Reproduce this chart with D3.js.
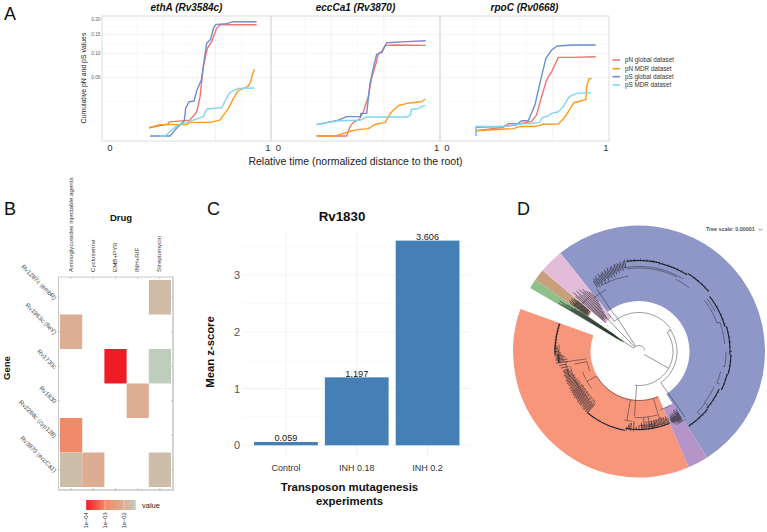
<!DOCTYPE html>
<html><head><meta charset="utf-8">
<script src="https://cdn.jsdelivr.net/npm/d3@7"></script>
<style>html,body{margin:0;padding:0;background:#fff}svg{display:block}text{font-family:"Liberation Sans",Arial,sans-serif}</style>
</head><body><svg id="c" width="767" height="532"></svg>
<script>
// ---------- Panel A data [x, value]
const genes=["ethA (Rv3584c)","eccCa1 (Rv3870)","rpoC (Rv0668)"];
const seriesNames=["pN global dataset","pN MDR dataset","pS global dataset","pS MDR dataset"];
const seriesColors=["#f2736f","#ff9a1c","#6a8fd2","#80d6f0"];
const ethA_pNglobal=[[.247,.001],[.369,.0021],[.376,.0029],[.506,.0037],[.549,.0086],[.57,.0226],[.591,.0702],[.616,.1122],[.643,.13],[.675,.1693],[.696,.181],[.928,.181]];
const ethA_pNmdr=[[.247,.001],[.316,.0019],[.485,.0019],[.506,.0027],[.633,.0027],[.696,.0037],[.749,.0112],[.781,.0207],[.812,.03],[.876,.0365],[.89,.0431],[.901,.0543],[.914,.0649]];
const ethA_pSglobal=[[.253,0],[.38,0],[.422,.0009],[.47,.0034],[.479,.0112],[.5,.0172],[.532,.0179],[.549,.03],[.578,.0458],[.593,.0771],[.612,.1254],[.637,.1365],[.654,.1693],[.671,.1821],[.738,.1843],[.781,.1909],[.928,.1909]];
const ethA_pSmdr=[[.316,0],[.348,0],[.422,.0015],[.591,.0055],[.612,.0106],[.707,.0117],[.738,.0207],[.759,.0278],[.812,.0332],[.914,.0336]];
const ecc_pNglobal=[[.242,0],[.432,0],[.453,.0013],[.474,.0027],[.512,.0041],[.537,.0086],[.568,.0226],[.589,.0486],[.617,.0771],[.632,.0998],[.653,.1039],[.674,.1192],[.726,.1209],[.931,.12]];
const ecc_pNmdr=[[.242,0],[.358,0],[.432,.0002],[.499,.0006],[.568,.0008],[.611,.002],[.674,.0026],[.695,.0055],[.716,.0086],[.758,.0134],[.811,.0156],[.874,.0166],[.905,.0172],[.928,.02]];
const ecc_pSglobal=[[.242,.0019],[.379,.0037],[.432,.0055],[.52,.0055],[.52,.0075],[.558,.0075],[.579,.0405],[.604,.0736],[.621,.0974],[.653,.1014],[.684,.1272],[.811,.13],[.931,.1327]];
const ecc_pSmdr=[[.242,.0019],[.379,.0034],[.516,.0036],[.558,.0053],[.811,.0053],[.832,.0064],[.842,.0104],[.884,.0109],[.905,.0126],[.928,.0137]];
const rpo_pNglobal=[[.181,.0004],[.353,.0011],[.384,.0022],[.458,.0022],[.532,.0031],[.563,.0064],[.595,.0226],[.626,.0458],[.658,.0604],[.7,.0904],[.794,.0904],[.935,.0919]];
const rpo_pNmdr=[[.181,.0004],[.416,.0008],[.458,.0013],[.553,.0013],[.605,.002],[.7,.0021],[.735,.0046],[.763,.0086],[.798,.0162],[.836,.0176],[.874,.0196],[.878,.0355],[.893,.048],[.91,.0486]];
const rpo_pSglobal=[[.181,0],[.181,.0011],[.353,.0013],[.437,.0018],[.468,.0034],[.511,.0034],[.553,.014],[.584,.0405],[.622,.0881],[.658,.108],[.693,.1183],[.794,.1209],[.935,.1209]];
const rpo_pSmdr=[[.181,0],[.181,.0013],[.353,.0013],[.458,.0021],[.521,.0023],[.58,.0026],[.601,.0049],[.637,.006],[.658,.0075],[.7,.0086],[.731,.0126],[.769,.0226],[.815,.0266],[.903,.0274]];
const panelSeries=[[ethA_pNglobal,ethA_pNmdr,ethA_pSglobal,ethA_pSmdr],[ecc_pNglobal,ecc_pNmdr,ecc_pSglobal,ecc_pSmdr],[rpo_pNglobal,rpo_pNmdr,rpo_pSglobal,rpo_pSmdr]];
const yTicksA=[.05,.1,.15,.2];
const yMinorA=[.0172,.0702,.124,.175];
const xMajorA=[1/3,2/3], xMinorA=[1/6,.5,5/6];
// ---------- Panel B data
const drugs=["Aminoglycosides injectable agents","Cycloserine","EMB+PYR","INH+RIF","Streptomycin"];
const heatGenes=["Rv1287c (embR)","Rv1963c (fleY)","Rv1730c","Rv1830","Rv2268c (cyp128)","Rv3870 (eccCa1)"];
const heatCells=[[0,4,.019],[1,0,.01],[2,2,.0001],[2,4,.04],[3,3,.01],[4,0,.001],[5,0,.021],[5,1,.009],[5,4,.02]];
const legendTicks=[1e-4,1e-3,1e-2];
const legendLabels=["1e−04","1e−03","1e−02"];
const heatDomain=[1e-4,1e-3,1e-2,.04];
const heatRange=["#ee1c25","#f08a68","#dcae94","#bfcdbd"];
// ---------- Panel C data
const experiments=["Control","INH 0.18","INH 0.2"];
const zscores=[.059,1.197,3.606];
// ---------- Panel D data: ring sectors [start, end, inner, outer, colour]
const sectors=[[-38.6,147.2,50.5,126,"#8f96c8"],[147.2,156.8,62,126,"#b595c8"],[156.8,289.7,48.5,126,"#f7967a"],[300.3,304.7,18,126,"#8fbf8a"],[304.7,310,62,126,"#c79f7a"],[310,321.4,44,126,"#e2bcd9"]];
const treeArcs=[[6,-50,80],[34,56,119],[39,-40,53],[38,53,145],[34,119,187],[49,157,240],
 [83.5,-8,27],[85,-10,31],[81,27,38],[83,52,70],[86,70,85],[87,90,100],[84,104,112],[83,115,128],[84,128,136],[86,52,62],
 [80,262,275],[66,222,240],[70,240,258],[74,250,262],[60,232,250],[53,248,259],[66,164,184],[71,160,176],[74,170,180],[76,160,172],[70,186,192],[62,150,160],[82,146,153],[74,-50,-42],[76,-30,-8],[70,-40,-28]];
const treeHeavyArcs=[[91,-8,13],[90.5,13,32],[92,32,49],[89.5,52,74],[91,74,92],[92,92,104],[91,104,115],[88.5,115,130],[89.5,130,146],[84,268,289],[81,262,268],[80,190,220],[78,157,190]];
const treeRadials=[[-44,6,44],[-39,39,49],[-33,6,44],[-57.5,6,24],[119.6,6,34],[56,34,39],[145,38,80],[184,34,48],[184,48,65],[240,49,60],[259,53,66],[262,53,74],[190,49,70],[163,49,71],[-34,44,76],[70,83,86],[100,85,87],[112,84,87],[128,83,88],[136,84,89],[176,66,74],[172,66,76],[170,71,79],[178,71,79],[168,71,77]];
const tipsBlue=[[-33,76,84],[-32,78,86],[-31,75,85],[-30,78,87],[-29,76,84],[-28,77,88],[-27,79,86],[-26,75,87],[-25,78,88],[-24,80,86],[-23,76,89],[-22,79,87],[-21,80,90],[-20,78,87],[-19,81,89],[-18,78,90],[-17,82,88],[-16,80,91],[-15,83,90],[-14,81,91],[-13,83,90],[-12,84,92],[-11,82,90],[-10,85,92],[-9,84,93],
 [-7,90,93],[-5,90,92.5],[-3,90,93],[-1,90,92],[1,90,93],[3,90,92],[5,90,92.5],[7,90,92],[9,90,92.5],[11,90,92],[13,89,92],[15,89.5,92],[17,89.5,91.5],[19,89.5,92],[21,89.5,91.5],[23,89.5,91.5],[25,89.5,92],[28,89.5,91.5],[31,90,92],[34,91,93],[37,91,93],[40,91,93],[43,91,93],[46,91,93],[49,91,93],
 [60,88.5,91],[63,88.5,90],[66,88.5,91],[69,88.5,91],[72,88.5,91],[75,90,92],[78,90,92],[81,90,92.5],[84,90,93],[87,90,92],[90,90,93],[93,91,93],[96,91,93],[99,91,93],[102,91,93],[105,90,92],[108,90,92],[111,90,92],[114,90,92],[117,88,90],[120,88,90],[123,88,90],[126,88,90],[129,88,90],[132,89,91],[135,89,91],[138,89,91],[141,89,91],[144,89,91],[146,89,91]];
const tipsPurple=[[147.5,68,80],[148,72,82],[148.5,70,80],[149,72,82],[149.5,68,81],[150,74,81],[150.5,70,82],[151,74,80],[151.5,72,81],[152,70,80],[152.5,74,79],[153,72,81],[153.5,70,79],[154,74,80],[154.5,72,78],[155,74,79]];
const tipsOrange=[[157,72,78],[158,70,79],[159,72,77],[160,70,78],[161,72,79],[162,69,77],[163,72,78],[164,70,76],[165,72,78],[166,70,77],[167,72,78],[168,71,78],[169,73,78],[170,71,79],[171,73,77],[172,72,78],[173,74,79],[174,72,78],[175,74,78],[176,73,79],[177,74,78],[178,72,79],[180,74,79],[182,75,79],[184,70,80],[186,72,80],[187,72,79],[188,74,79],[189,76,80],
 [220,68,81],[220.8,70,80],[221.6,66,81],[222.4,70,79],[223.2,67,80],[224,68,81],[224.8,70,79],[225.6,66,80],[226.4,68,78],[227.2,67,80],[228,69,79],[228.8,66,80],[229.6,68,78],[230.4,66,80],[231.2,68,79],[232,65,78],[232.8,68,79],[233.6,66,78],[234.4,68,80],[235.2,65,78],[236,68,79],[236.8,66,79],[237.6,68,78],[238.4,65,79],[239.2,68,78],[240,66,79],[241,68,78],[242,66,79],[243,68,77],[244,66,78],[245,69,78],[246,67,79],[247,70,78],[248,68,79],[249,70,78],[250,68,78],[251,71,78],[252,70,79],[253,72,78],[254,70,78],[255,72,79],[256,72,78],
 [258,72,80],[260,74,81],[262,72,84],[263,75,82],[264,72,84],[265,76,84],[266,74,83],[267,76,85],[268,78,84],[269,78,85],[270,80,85],[271,80,85],[272,81,85],[273,81,85],[274,82,85],[276,82,85],[278,82.5,85],[280,83,85],[282,83,85],[284,83,85],[286,83,85],[288,83,85],[289,83,86]];
const tipsGreen=[[-59,20,94],[-58.5,24,90],[-58,24,80],[-57.5,24,94],[-57,26,86],[-56.5,28,78],[-56,30,72]];
const tipsBrown=[[-55,62,84],[-54.5,64,80],[-54,62,86],[-53.5,64,82],[-53,62,85],[-52.5,64,80],[-52,63,86],[-51.5,65,82],[-51,63,84],[-50.5,65,80]];
const tipsPink=[[-49,44,84],[-48,48,88],[-47,46,82],[-46,48,87],[-45,46,80],[-44,44,86],[-43,48,82],[-42,52,84],[-41,56,80],[-40,60,78],[-39,64,76]];

// ---------- Drawing
const svg=d3.select("#c");
const letter=(t,x,y)=>svg.append("text").attr("x",x).attr("y",y).attr("font-size",18).attr("fill","#111").text(t);
letter("A",4,20);letter("B",4,215);letter("C",207,215);letter("D",517,215);

// Panel A
const panelX=[[110,268],[278.3,436.7],[447,606]], frames=[[102,271],[271,440],[440,609]];
const yA=d3.scaleSqrt().domain([0,.2]).range([136,19]);
panelSeries.forEach((set,p)=>{
  const xA=d3.scaleLinear().domain([0,1]).range(panelX[p]);
  const g=svg.append("g");
  const [fl,fr]=frames[p];
  g.selectAll(".hm").data(yMinorA).join("line").attr("x1",fl).attr("x2",fr).attr("y1",yA).attr("y2",yA).attr("stroke","#f4f4f4").attr("stroke-width",.5);
  g.selectAll(".hM").data(yTicksA).join("line").attr("x1",fl).attr("x2",fr).attr("y1",yA).attr("y2",yA).attr("stroke","#ececec").attr("stroke-width",.7);
  g.selectAll(".vm").data(xMinorA).join("line").attr("x1",xA).attr("x2",xA).attr("y1",16).attr("y2",141).attr("stroke","#f4f4f4").attr("stroke-width",.5);
  g.selectAll(".vM").data(xMajorA).join("line").attr("x1",xA).attr("x2",xA).attr("y1",16).attr("y2",141).attr("stroke","#ececec").attr("stroke-width",.7);
  g.append("rect").attr("x",fl).attr("y",16).attr("width",fr-fl).attr("height",125).attr("fill","none").attr("stroke","#dcdcdc").attr("stroke-width",1);
  const line=d3.line().x(d=>xA(d[0])).y(d=>yA(d[1]));
  set.forEach((s,i)=>g.append("path").attr("d",line(s)).attr("fill","none").attr("stroke",seriesColors[i]).attr("stroke-width",1.4).attr("stroke-linejoin","round"));
  svg.append("text").attr("x",(fl+fr)/2).attr("y",11).attr("text-anchor","middle").attr("font-size",10).attr("font-weight","bold").attr("font-style","italic").attr("fill","#111").text(genes[p]);
  [0,1].forEach(v=>svg.append("text").attr("x",xA(v)).attr("y",150.7).attr("text-anchor","middle").attr("font-size",9.5).attr("fill","#333").text(v));
});
svg.selectAll(".yt").data(yTicksA).join("text").attr("x",100.5).attr("y",d=>yA(d)+1.7).attr("text-anchor","end").attr("font-size",4.8).attr("fill","#666").text(d=>d3.format(".2f")(d));
svg.append("text").attr("transform","translate(85.5,78) rotate(-90)").attr("text-anchor","middle").attr("font-size",6.9).attr("fill","#222").text("Cumulative pN and pS values");
svg.append("text").attr("x",355.5).attr("y",165).attr("text-anchor","middle").attr("font-size",10.5).attr("fill","#222").text("Relative time (normalized distance to the root)");
seriesNames.forEach((n,i)=>{const y=[60,68.7,76.7,85][i];
  svg.append("line").attr("x1",612.5).attr("x2",620).attr("y1",y).attr("y2",y).attr("stroke",seriesColors[i]).attr("stroke-width",1.6);
  svg.append("text").attr("x",625).attr("y",y+2.1).attr("font-size",6.3).attr("fill","#333").text(n);});

// Panel B
const xB=d3.scaleBand().domain(d3.range(5)).range([60,171]);
const yB=d3.scaleBand().domain(d3.range(6)).range([280,487]);
const colorB=d3.scaleLog().domain(heatDomain).range(heatRange).interpolate(d3.interpolateRgb);
svg.append("rect").attr("x",58.5).attr("y",277).attr("width",114.5).attr("height",213).attr("fill","#fff").attr("stroke","#c9c9c9").attr("stroke-width",1);
svg.append("path").attr("d","M173 277V490H58").attr("fill","none").attr("stroke","#cfcfcf").attr("stroke-width",1.6);
svg.selectAll(".cell").data(heatCells).join("rect").attr("x",d=>xB(d[1])).attr("y",d=>yB(d[0])).attr("width",xB.bandwidth()).attr("height",yB.bandwidth()).attr("fill",d=>colorB(d[2]));
drugs.forEach((d,i)=>{const x=xB(i)+xB.bandwidth()/2;
  svg.append("text").attr("transform",`translate(${x+1.5},272) rotate(-90)`).attr("font-size",6.2).attr("fill","#333").text(d);
  svg.append("line").attr("x1",x).attr("x2",x).attr("y1",277).attr("y2",279).attr("stroke","#999").attr("stroke-width",.5);
  svg.append("line").attr("x1",x).attr("x2",x).attr("y1",488).attr("y2",490).attr("stroke","#999").attr("stroke-width",.5);});
heatGenes.forEach((d,i)=>{const y=yB(i)+yB.bandwidth()/2;
  svg.append("text").attr("transform",`translate(54,${y+3}) rotate(45)`).attr("text-anchor","end").attr("font-size",6.2).attr("fill","#444").text(d);
  svg.append("line").attr("x1",58).attr("x2",60).attr("y1",y).attr("y2",y).attr("stroke","#999").attr("stroke-width",.5);
  svg.append("line").attr("x1",171).attr("x2",173).attr("y1",y).attr("y2",y).attr("stroke","#999").attr("stroke-width",.5);});
svg.append("text").attr("x",121).attr("y",221).attr("text-anchor","middle").attr("font-size",9.5).attr("font-weight","bold").attr("fill","#111").text("Drug");
svg.append("text").attr("transform","translate(9.5,368) rotate(-90)").attr("text-anchor","middle").attr("font-size",9.5).attr("font-weight","bold").attr("fill","#111").text("Gene");
const legX=d3.scaleLog().domain([1e-4,1e-3,1e-2,.04]).range([86,105,124,135.7]);
const grad=svg.append("defs").append("linearGradient").attr("id","lg");
heatDomain.forEach((v,i)=>grad.append("stop").attr("offset",(legX(v)-86)/49.7).attr("stop-color",heatRange[i]));
svg.append("rect").attr("x",86).attr("y",500).attr("width",49.7).attr("height",10).attr("fill","url(#lg)");
legendTicks.forEach((v,i)=>{svg.append("text").attr("transform",`translate(${legX(v)+2},528.5) rotate(-90)`).attr("font-size",5.8).attr("fill","#333").text(legendLabels[i]);
  svg.append("line").attr("x1",legX(v)).attr("x2",legX(v)).attr("y1",500).attr("y2",510).attr("stroke","#fff").attr("stroke-width",.4);});
svg.append("text").attr("x",142).attr("y",508).attr("font-size",7.5).attr("fill","#222").text("value");

// Panel C
const xC=d3.scaleBand().domain(experiments).range([250.5,463]).paddingInner(.1).paddingOuter(.05);
const yC=d3.scaleLinear().domain([0,3]).range([445.3,275]);
const gridC=svg.append("g");
gridC.selectAll(".h").data(d3.range(0,3.51,.5)).join("line").attr("x1",243).attr("x2",470).attr("y1",yC).attr("y2",yC).attr("stroke",d=>d%1==0?"#ededed":"#f5f5f5").attr("stroke-width",.7);
gridC.selectAll(".v").data(experiments).join("line").attr("x1",d=>xC(d)+xC.bandwidth()/2).attr("x2",d=>xC(d)+xC.bandwidth()/2).attr("y1",230).attr("y2",455).attr("stroke","#ededed").attr("stroke-width",.7);
svg.selectAll(".bar").data(zscores).join("rect").attr("x",(d,i)=>xC(experiments[i])).attr("width",xC.bandwidth()).attr("y",d=>yC(d)).attr("height",d=>yC(0)-yC(d)).attr("fill","#4480b6");
svg.selectAll(".bl").data(zscores).join("text").attr("x",(d,i)=>xC(experiments[i])+xC.bandwidth()/2).attr("y",d=>yC(d)-.8).attr("text-anchor","middle").attr("font-size",9.2).attr("fill","#222").text(d=>d3.format(".3f")(d));
const axL=svg.append("g").attr("transform","translate(243,0)").call(d3.axisLeft(yC).tickValues([0,1,2,3]).tickSize(0).tickFormat(d3.format("d")));
axL.select(".domain").remove();axL.selectAll("text").attr("font-size",11).attr("fill","#555").attr("font-family","Liberation Sans");
const axB=svg.append("g").attr("transform","translate(0,461)").call(d3.axisBottom(xC).tickSize(0));
axB.select(".domain").remove();axB.selectAll("text").attr("font-size",9).attr("fill","#333").attr("font-family","Liberation Sans").attr("y",9.7).attr("dy",0);
svg.append("text").attr("x",342).attr("y",220.7).attr("text-anchor","middle").attr("font-size",13.3).attr("font-weight","bold").attr("fill","#111").text("Rv1830");
svg.append("text").attr("transform","translate(213.5,352) rotate(-90)").attr("text-anchor","middle").attr("font-size",11.3).attr("font-weight","bold").attr("fill","#111").text("Mean z-score");
svg.append("text").attr("x",349.5).attr("y",490.7).attr("text-anchor","middle").attr("font-size",11.4).attr("font-weight","bold").attr("fill","#111").text("Transposon mutagenesis");
svg.append("text").attr("x",349.5).attr("y",505).attr("text-anchor","middle").attr("font-size",11.4).attr("font-weight","bold").attr("fill","#111").text("experiments");

// Panel D
const rad=d3.scaleLinear().domain([0,360]).range([0,2*Math.PI]);
const gD=svg.append("g").attr("transform","translate(639,351.5)");
const arc=d3.arc();
gD.selectAll(".s").data(sectors).join("path").attr("d",d=>arc({startAngle:rad(d[0]),endAngle:rad(d[1]),innerRadius:d[2],outerRadius:d[3]})).attr("fill",d=>d[4]);
const radial=d3.lineRadial().angle(d=>rad(d[0])).radius(d=>d[1]);
const arcPath=d=>{const pts=d3.range(d[1],d[2],1).concat([d[2]]).map(a=>[a,d[0]]);return radial(pts);};
const radialPath=d=>radial([[d[0],d[1]],[d[0],d[2]]]);
gD.selectAll(".a").data(treeArcs).join("path").attr("d",arcPath).attr("fill","none").attr("stroke","#2b2b33").attr("stroke-width",.5);
gD.selectAll(".ha").data(treeHeavyArcs).join("path").attr("d",arcPath).attr("fill","none").attr("stroke","#1f1f26").attr("stroke-width",1.1);
gD.selectAll(".r").data(treeRadials).join("path").attr("d",radialPath).attr("fill","none").attr("stroke","#2b2b33").attr("stroke-width",.5);
[tipsBlue,tipsPurple,tipsOrange,tipsGreen,tipsBrown,tipsPink].forEach(t=>{
  gD.append("g").selectAll("path").data(t).join("path").attr("d",radialPath).attr("fill","none").attr("stroke","#26262e").attr("stroke-width",.65);});
svg.append("text").attr("x",706).attr("y",231).attr("font-size",5.4).attr("font-weight","bold").attr("fill","#555").text("Tree scale: 0.00001");
svg.append("path").attr("d","M759 228.5v1.5h3v-1.5").attr("fill","none").attr("stroke","#666").attr("stroke-width",.5);
</script></body></html>
